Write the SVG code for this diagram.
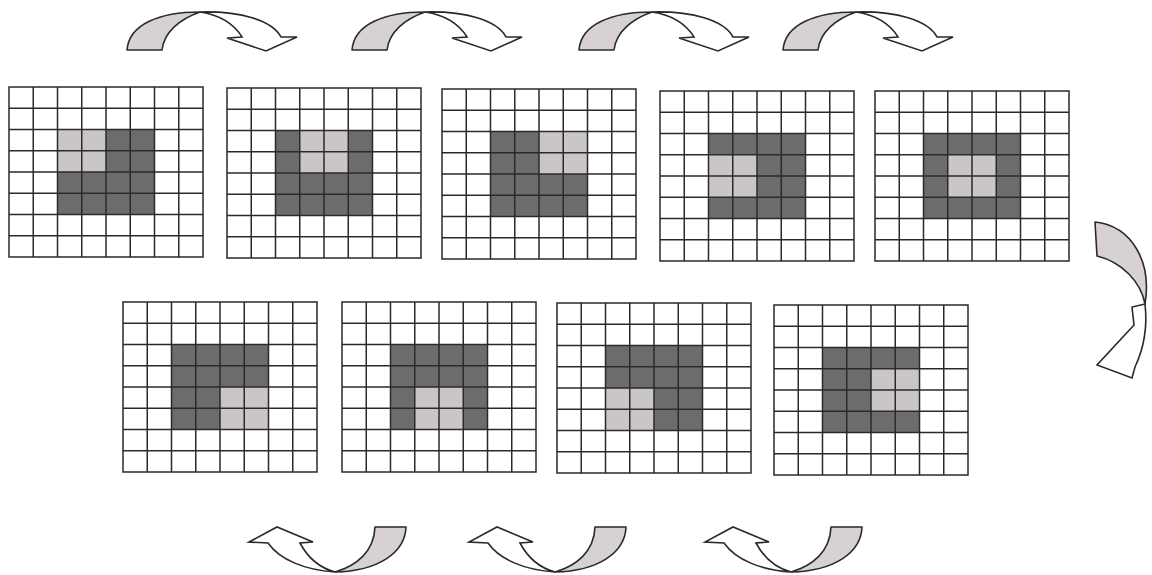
<svg xmlns="http://www.w3.org/2000/svg" xmlns:xlink="http://www.w3.org/1999/xlink" width="1152" height="575" viewBox="0 0 1152 575">
<style>
.dk{fill:#6c6c6c}
.lt{fill:#cbc6c6}
.gl{fill:none;stroke:#2a2a2a;stroke-width:1.5}
.ash{fill:#d8d1d1;stroke:#2a2a2a;stroke-width:1.6;stroke-linejoin:round}
.awh{fill:#ffffff;stroke:#2a2a2a;stroke-width:1.6;stroke-linejoin:miter}
</style>
<defs>
<path id="grid" class="gl" d="M0,0H194V170H0Z M24.25,0V170 M48.5,0V170 M72.75,0V170 M97,0V170 M121.25,0V170 M145.5,0V170 M169.75,0V170 M0,21.25H194 M0,42.5H194 M0,63.75H194 M0,85H194 M0,106.25H194 M0,127.5H194 M0,148.75H194"/>
<rect id="blk" class="dk" x="48.5" y="42.5" width="97" height="85"/>
<g id="topArrow">
<path class="awh" d="M200,12 C240,11 272,20 281,37 L297,37 L266,51 L227,38 L242,37 C234,24 220,15 200,12 Z"/>
<path class="ash" d="M127,50 C129,24 160,12 200,12 C180,19 164,32 162,50 Z"/>
</g>
<g id="botArrow">
<path class="awh" d="M335,572 C305,570 280,560 268,543 L249,542 L277,527 L313,542 L300,543 C308,558 320,568 335,572 Z"/>
<path class="ash" d="M375,527 L406,527 C405,553 378,571 335,572 C356,566 374,552 375,527 Z"/>
</g>
</defs>
<rect width="1152" height="575" fill="#ffffff"/>

<g id="grid1" transform="translate(9,87)"><use xlink:href="#blk"/><rect class="lt" x="48.5" y="42.5" width="48.5" height="42.5"/><use xlink:href="#grid"/></g>
<g id="grid2" transform="translate(227,88)"><use xlink:href="#blk"/><rect class="lt" x="72.75" y="42.5" width="48.5" height="42.5"/><use xlink:href="#grid"/></g>
<g id="grid3" transform="translate(442,89)"><use xlink:href="#blk"/><rect class="lt" x="97" y="42.5" width="48.5" height="42.5"/><use xlink:href="#grid"/></g>
<g id="grid4" transform="translate(660,91)"><use xlink:href="#blk"/><rect class="lt" x="48.5" y="63.75" width="48.5" height="42.5"/><use xlink:href="#grid"/></g>
<g id="grid5" transform="translate(875,91)"><use xlink:href="#blk"/><rect class="lt" x="72.75" y="63.75" width="48.5" height="42.5"/><use xlink:href="#grid"/></g>
<g id="grid6" transform="translate(123,302)"><use xlink:href="#blk"/><rect class="lt" x="97" y="85" width="48.5" height="42.5"/><use xlink:href="#grid"/></g>
<g id="grid7" transform="translate(342,302)"><use xlink:href="#blk"/><rect class="lt" x="72.75" y="85" width="48.5" height="42.5"/><use xlink:href="#grid"/></g>
<g id="grid8" transform="translate(557,303)"><use xlink:href="#blk"/><rect class="lt" x="48.5" y="85" width="48.5" height="42.5"/><use xlink:href="#grid"/></g>
<g id="grid9" transform="translate(774,305)"><use xlink:href="#blk"/><rect class="lt" x="97" y="63.75" width="48.5" height="42.5"/><use xlink:href="#grid"/></g>

<g id="connectors">
<use xlink:href="#topArrow"/>
<use xlink:href="#topArrow" transform="translate(225,0)"/>
<use xlink:href="#topArrow" transform="translate(452,0)"/>
<use xlink:href="#topArrow" transform="translate(656,0)"/>
<g id="sideArrow">
<path class="awh" d="M1145,304 L1132,307 L1134,325 L1097,365 L1132,378 L1135,367 C1143,350 1148,330 1145,304 Z"/>
<path class="ash" d="M1095,222 L1097,256 C1122,262 1141,282 1145,304 C1152,262 1132,226 1095,222 Z"/>
</g>
<use xlink:href="#botArrow"/>
<use xlink:href="#botArrow" transform="translate(220,0)"/>
<use xlink:href="#botArrow" transform="translate(456,0)"/>
</g>
</svg>
